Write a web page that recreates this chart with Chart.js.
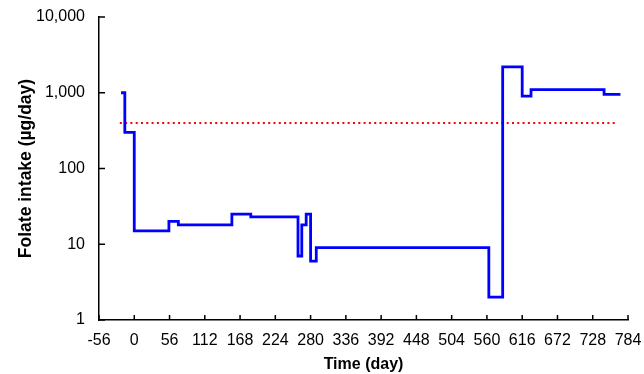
<!DOCTYPE html>
<html>
<head>
<meta charset="utf-8">
<script src="https://cdn.jsdelivr.net/npm/chart.js@4/dist/chart.umd.min.js"></script>
<style>
  html, body { margin: 0; padding: 0; background: #fff; }
  #wrap { width: 644px; height: 374px; }
</style>
</head>
<body>
<div id="wrap"><canvas id="graf"></canvas></div>
<script>
// údaje (den -> příjem folátu, schodovitě)
const DNY_ZMENY = [-21, -15, 0, 55, 70, 155, 185, 260, 266, 273, 280, 289, 563, 585, 616, 630, 746, 772];
const PRIJEM    = [1000, 300, 15, 20, 18, 25, 23, 7, 18, 25, 6, 9, 2, 2200, 900, 1100, 950, 950];

// doporučená hladina (červená tečkovaná)
const LIMIT_DNY = [-23, 768];
const LIMIT     = [400, 400];

const X_TICKS = [-56, 0, 56, 112, 168, 224, 280, 336, 392, 448, 504, 560, 616, 672, 728, 784];
const Y_TICKS = [1, 10, 100, 1000, 10000];

const FONT = "'Liberation Sans', Arial, Helvetica, sans-serif";

// krátké tickové čárky dovnitř grafu
const vnitrniTicky = {
  id: "vnitrniTicky",
  afterDraw(chart) {
    const { ctx, scales: { x, y } } = chart;
    ctx.save();
    ctx.strokeStyle = "#000";
    ctx.lineWidth = 1.5;
    ctx.beginPath();
    X_TICKS.forEach(v => {
      const px = x.getPixelForValue(v);
      ctx.moveTo(px, x.top); ctx.lineTo(px, x.top - 5);
    });
    Y_TICKS.forEach(v => {
      const py = y.getPixelForValue(v);
      ctx.moveTo(y.right, py); ctx.lineTo(y.right + 6, py);
    });
    ctx.stroke();
    ctx.restore();
  },
};

new Chart(document.getElementById("graf"), {
  type: "line",
  data: {
    datasets: [
      {
        data: DNY_ZMENY.map((d, i) => ({ x: d, y: PRIJEM[i] })),
        borderColor: "#0000ff", borderWidth: 2.8, stepped: "before",
        pointRadius: 0, fill: false,
      },
      {
        data: LIMIT_DNY.map((d, i) => ({ x: d, y: LIMIT[i] })),
        borderColor: "#ff0000", borderWidth: 2, borderDash: [2, 3.3],
        pointRadius: 0, fill: false,
      },
    ],
  },
  options: {
    responsive: true, maintainAspectRatio: false, animation: false,
    layout: { padding: { top: 17, right: 16, bottom: 0, left: 16 } },
    plugins: { legend: { display: false }, tooltip: { enabled: false } },
    scales: {
      x: {
        type: "linear", min: -56, max: 784,
        afterBuildTicks: s => { s.ticks = X_TICKS.map(v => ({ value: v })); },
        afterFit: s => { s.height = 54; s.paddingLeft = 0; s.paddingRight = 0; },
        grid: { display: false, drawTicks: false },
        border: { color: "#000", width: 1.5 },
        ticks: { color: "#000", padding: 11, maxRotation: 0, autoSkip: false,
                 font: { family: FONT, size: 16 } },
        title: { display: true, text: "Time (day)", color: "#000", padding: 0,
                 font: { family: FONT, size: 16, weight: "bold" } },
      },
      y: {
        type: "logarithmic", min: 1, max: 10000,
        afterBuildTicks: s => { s.ticks = Y_TICKS.map(v => ({ value: v })); },
        afterFit: s => { s.width = 83; s.paddingTop = 0; s.paddingBottom = 0; },
        grid: { display: false, drawTicks: false },
        border: { color: "#000", width: 1.5 },
        ticks: { color: "#000", padding: 14,
                 font: { family: FONT, size: 16 },
                 callback: v => v.toLocaleString("en-US") },
        title: { display: true, text: "Folate intake (µg/day)", color: "#000", padding: 0,
                 font: { family: FONT, size: 17.5, weight: "bold" } },
      },
    },
  },
  plugins: [vnitrniTicky],
});
</script>
</body>
</html>
